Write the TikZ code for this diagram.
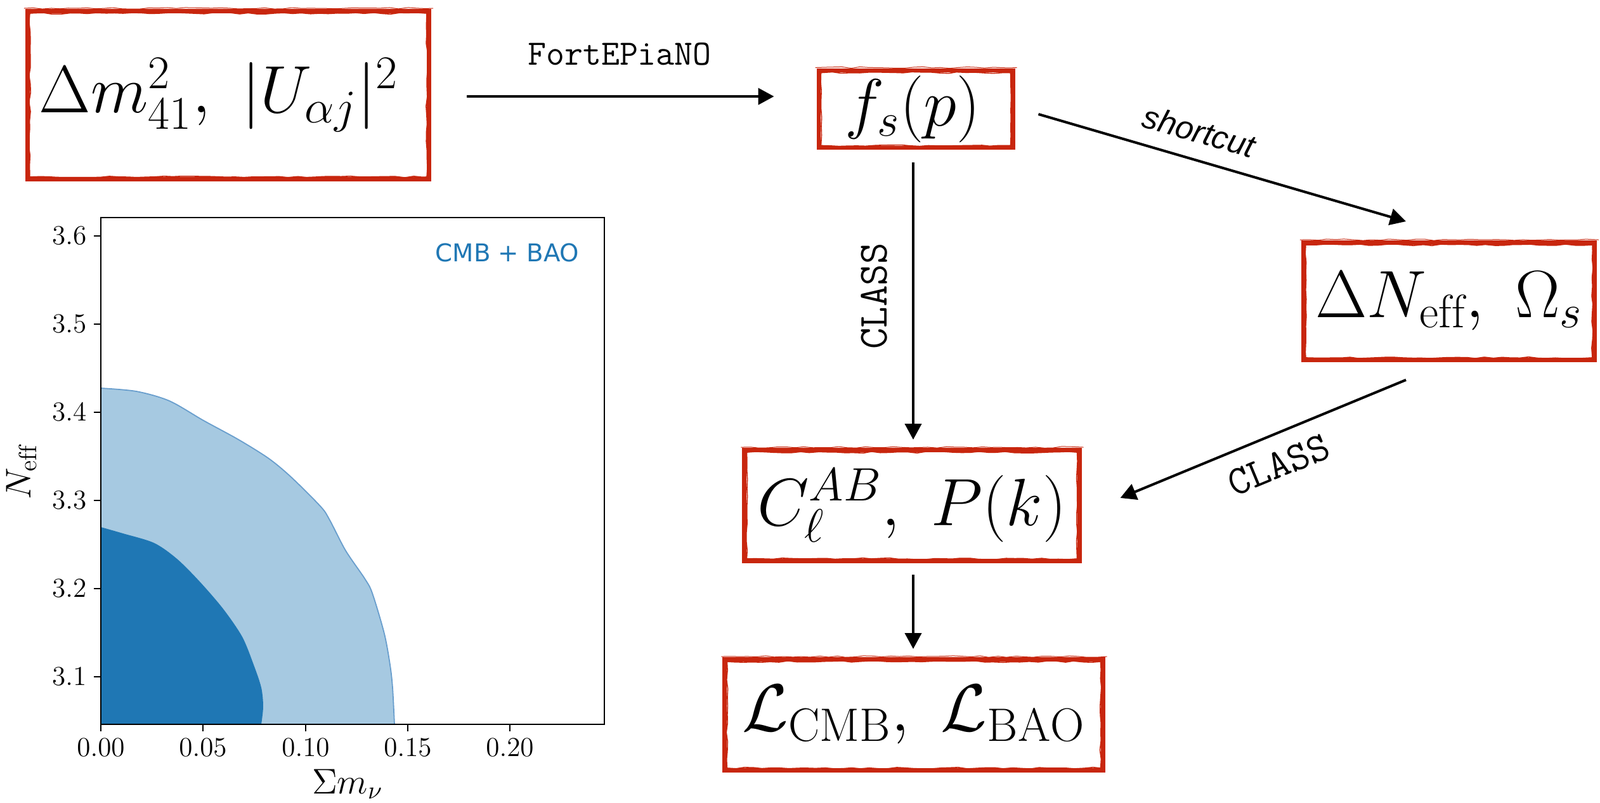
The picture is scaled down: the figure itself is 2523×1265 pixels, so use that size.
\documentclass[tikz,border=0pt]{standalone}
\usepackage{fix-cm}
\usepackage{fontspec}
\newfontfamily\dvsans{DejaVu Sans}
\newfontfamily\labsans{Liberation Sans}
\usetikzlibrary{arrows.meta,decorations.pathmorphing}
\definecolor{framered}{RGB}{200,38,14}
\definecolor{mplblue}{RGB}{31,119,180}
\definecolor{mpllight}{RGB}{166,201,225}
\definecolor{mpledge}{RGB}{105,158,205}
\tikzset{
  frame/.style={draw=framered, line width=0.068cm, inner sep=0pt, align=center,
    font=\fontsize{30}{36}\selectfont},
  innerframe/.style={draw=framered, line width=0.016cm, decorate,
    decoration={random steps, segment length=4pt, amplitude=0.35pt}},
  arr/.style={line width=0.04cm, -{Triangle[length=0.25cm, width=0.26cm]}},
  ttlab/.style={inner sep=0pt, font=\ttfamily\fontsize{16}{19}\selectfont},
  classlab/.style={inner sep=0pt, font=\ttfamily\fontsize{18.5}{22}\selectfont},
  cutlab/.style={inner sep=0pt, font=\labsans\itshape\fontsize{14.5}{17}\selectfont},
  ticklab/.style={inner sep=0pt, font=\fontsize{12.3}{15}\selectfont},
  axlab/.style={inner sep=0pt, font=\fontsize{16}{19}\selectfont},
  spine/.style={line width=0.022cm, black},
}
\begin{document}
\begin{tikzpicture}[x=0.01cm, y=-0.01cm]
\useasboundingbox (0,0) rectangle (2523,1265);

% ---------- boxes ----------
\node[frame, minimum width=6.33cm, minimum height=2.65cm] (par) at (360,150)
  {$\Delta m^2_{41},\ |U_{\alpha j}|^2$\hspace{0.3cm}};
\node[frame, minimum width=3.06cm, minimum height=1.22cm] (fs) at (1444,172)
  {$f_s(p)$\hspace{0.1cm}};
\node[frame, minimum width=4.59cm, minimum height=1.85cm] (dn) at (2285,475)
  {$\Delta N_{\mathrm{eff}},\ \Omega_s$};
\node[frame, minimum width=5.28cm, minimum height=1.75cm] (cl) at (1438,797)
  {$C_\ell^{AB},\ P(k)$};
\node[frame, minimum width=5.96cm, minimum height=1.75cm] (lk) at (1441,1127)
  {$\mathcal{L}_{\mathrm{CMB}},\ \mathcal{L}_{\mathrm{BAO}}$};
\foreach \n in {par,fs,dn,cl,lk}{
  \draw[innerframe] ([shift={(7,7)}]\n.north west) rectangle ([shift={(-7,-7)}]\n.south east);
  \draw[innerframe, line width=0.01cm] ([shift={(-2,-1)}]\n.north west) -- ([shift={(3,-1)}]\n.north east);
}

% ---------- connectors ----------
\draw[arr] ([shift={(56,2)}]par.east) -- ([shift={(-67,-20)}]fs.west);
\draw[arr] ([shift={(-4,20)}]fs.south) -- ([shift={(2,-13)}]cl.north);
\draw[arr] ([shift={(2,18)}]cl.south) -- ([shift={(-1,-13)}]lk.north);
\draw[arr] ([shift={(37,8)}]fs.east) -- ([shift={(-68,-30)}]dn.north);
\draw[arr] ([shift={(-68,28)}]dn.south) -- ([shift={(61,-12)}]cl.east);

% ---------- connector labels ----------
\node[ttlab] (lfort) at (977,85) {FortEPiaNO};
\node[classlab, rotate=90] (lclass1) at (1379,467) {CLASS};
\node[cutlab, rotate=-16] (lcut) at (1891,207) {shortcut};
\node[classlab, rotate=22.5] (lclass2) at (2016,733) {CLASS};

% ---------- plot ----------
\fill[mpllight] (159,1142) -- plot[smooth, tension=0.5] coordinates {
  (159,612) (215,617) (267,632) (321,663) (376,693) (424,723) (460,753)
  (506,799) (520,820) (545,868) (575,912) (587,935) (606,999) (615,1048)
  (619,1084) (622,1142)} -- cycle;
\draw[mpledge, line width=0.018cm] plot[smooth, tension=0.5] coordinates {
  (159,612) (215,617) (267,632) (321,663) (376,693) (424,723) (460,753)
  (506,799) (520,820) (545,868) (575,912) (587,935) (606,999) (615,1048)
  (619,1084) (622,1142)};
\fill[mplblue] (159,1142) -- plot[smooth, tension=0.5] coordinates {
  (159,831) (194,841) (243,856) (279,881) (315,917) (352,960) (382,1004)
  (400,1048) (412,1084) (415,1114) (412,1142)} -- cycle;

\draw[spine] (159,343) rectangle (953,1142);
\foreach \v/\yy in {3.1/1067,3.2/928,3.3/789,3.4/650,3.5/511,3.6/372}{
  \draw[spine] (148,\yy) -- (159,\yy);
  \node[ticklab, anchor=east] at (137,\yy) {$\v$};
}
\foreach \v/\xx in {0.00/159,0.05/320,0.10/482,0.15/643,0.20/804}{
  \draw[spine] (\xx,1142) -- (\xx,1153);
  \node[ticklab, anchor=north] at (\xx,1164) {$\v$};
}
\node[axlab, rotate=90] (ylab) at (34,744) {$N_{\mathrm{eff}}$};
\node[axlab] (xlab) at (548,1236) {$\Sigma m_\nu$};
\node[inner sep=0pt, text=mplblue, font=\dvsans\fontsize{11}{13}\selectfont] (leg) at (800,398) {CMB + BAO};
\end{tikzpicture}
\end{document}
